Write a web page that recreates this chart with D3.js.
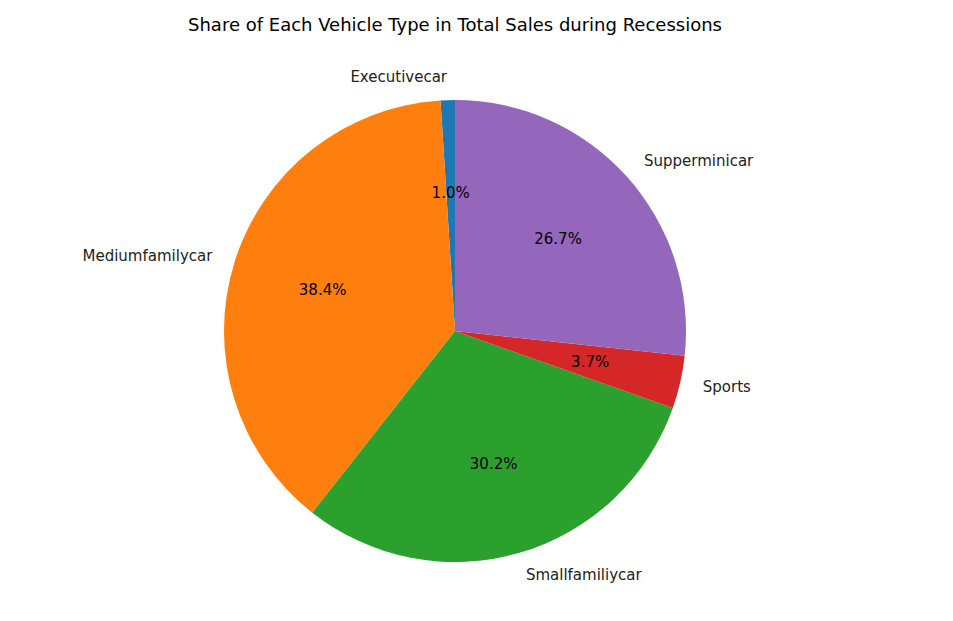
<!DOCTYPE html>
<html><head><meta charset="utf-8">
<script src="https://cdn.jsdelivr.net/npm/d3@7"></script>
<style>body{margin:0;background:#fff}text{font-family:"DejaVu Sans",sans-serif}</style>
</head><body><svg id="c" width="953" height="621"></svg>
<script>
const categories = ["Executivecar","Mediumfamilycar","Smallfamiliycar","Sports","Supperminicar"];
const shares = [1.0, 38.4, 30.2, 3.7, 26.7];
const colors = ["#1f77b4","#ff7f0e","#2ca02c","#d62728","#9467bd"];
const title = "Share of Each Vehicle Type in Total Sales during Recessions";

const svg = d3.select("#c");
const cx = 455, cy = 331, R = 231;
const total = d3.sum(shares);
const ang = d3.scaleLinear().domain([0, total]).range([0, -2*Math.PI]);
let cum = 0;
const slices = shares.map((v,i)=>{const s={i,v,start:ang(cum),end:ang(cum+v)};cum+=v;return s;});
const arc = d3.arc().innerRadius(0).outerRadius(R);
const g = svg.append("g").attr("transform",`translate(${cx},${cy})`);
g.selectAll("path").data(slices).join("path")
  .attr("d",d=>arc({startAngle:d.start,endAngle:d.end}))
  .attr("fill",d=>colors[d.i]);
slices.forEach(d=>{
  const a=(d.start+d.end)/2;
  const x1=Math.sin(a)*R*1.1, y1=-Math.cos(a)*R*1.1;
  g.append("text").attr("x",x1).attr("y",y1).attr("dy","0.35em")
    .attr("text-anchor",x1>0?"start":"end").attr("font-size",15).attr("fill","#222")
    .text(categories[d.i]);
  g.append("text").attr("x",Math.sin(a)*R*0.6).attr("y",-Math.cos(a)*R*0.6).attr("dy","0.35em")
    .attr("text-anchor","middle").attr("font-size",15).attr("fill","#000")
    .text((d.v/total*100).toFixed(1)+"%");
});
svg.append("text").attr("x",cx).attr("y",31).attr("text-anchor","middle")
  .attr("font-size",18).attr("fill","#000").text(title);
</script></body></html>
